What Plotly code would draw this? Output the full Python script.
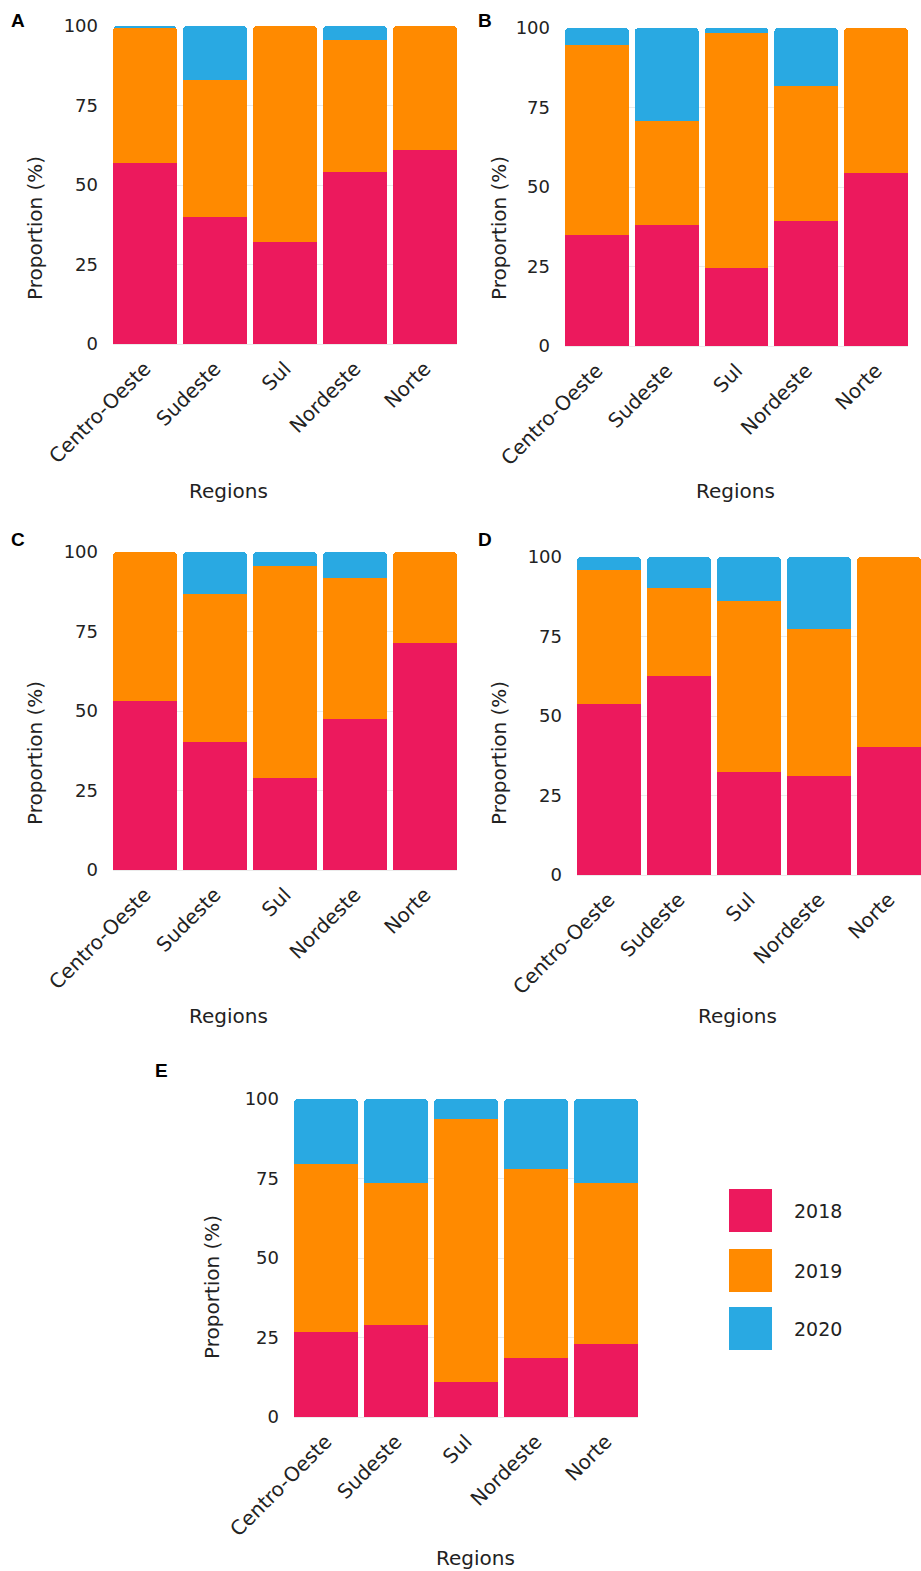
import plotly.graph_objects as go

W, H = 921, 1571

regions = ["Centro-Oeste", "Sudeste", "Sul", "Nordeste", "Norte"]
years = ["2018", "2019", "2020"]

# proportion (%) of each year per region, one set per panel
a_2018 = [57.0, 40.0, 32.0, 54.0, 61.0]
a_2019 = [42.5, 43.0, 68.0, 41.5, 39.0]
a_2020 = [0.5, 17.0, 0.0, 4.5, 0.0]

b_2018 = [35.0, 38.0, 24.5, 39.3, 54.4]
b_2019 = [59.5, 32.6, 73.8, 42.5, 45.6]
b_2020 = [5.5, 29.4, 1.7, 18.2, 0.0]

c_2018 = [53.2, 40.2, 28.9, 47.6, 71.5]
c_2019 = [46.8, 46.5, 66.7, 44.3, 28.5]
c_2020 = [0.0, 13.3, 4.4, 8.1, 0.0]

d_2018 = [53.8, 62.7, 32.5, 31.2, 40.4]
d_2019 = [42.2, 27.6, 53.6, 46.2, 59.6]
d_2020 = [4.0, 9.7, 13.9, 22.6, 0.0]

e_2018 = [26.8, 28.8, 11.0, 18.4, 23.1]
e_2019 = [52.9, 44.8, 82.6, 59.5, 50.5]
e_2020 = [20.3, 26.4, 6.4, 22.1, 26.4]

y_ticks = [0, 25, 50, 75, 100]

colors = {"2018": "#EC195D", "2019": "#FF8A00", "2020": "#29A9E2"}
FONT = "DejaVu Sans"
TXT = "#222222"
GRID = "#EBEBEB"

panels = [
    ("A", [a_2018, a_2019, a_2020], (113, 457, 26, 344)),
    ("B", [b_2018, b_2019, b_2020], (565, 908, 28, 346)),
    ("C", [c_2018, c_2019, c_2020], (113, 457, 552, 870)),
    ("D", [d_2018, d_2019, d_2020], (577, 921, 557, 875)),
    ("E", [e_2018, e_2019, e_2020], (294, 638, 1099, 1417)),
]


def px(x):
    return x / W


def py(y):
    return 1 - y / H


fig = go.Figure()
layout = {}
annotations = []
shapes = []

GAP = 0.086
for i, (letter, series, (x0, x1, y0, y1)) in enumerate(panels):
    n = "" if i == 0 else str(i + 1)
    for year, vals in zip(years, series):
        fig.add_trace(go.Bar(
            x=regions, y=[v if v > 0 else None for v in vals], name=year,
            marker=dict(color=colors[year], line=dict(width=0)),
            xaxis="x" + n, yaxis="y" + n, showlegend=False,
        ))
    layout["xaxis" + n] = dict(
        domain=[px(x0), px(x1)], anchor="y" + n, automargin=False,
        range=[-0.5 + GAP / 2, len(regions) - 0.5 - GAP / 2],
        tickangle=-45, tickfont=dict(family=FONT, size=20, color=TXT),
        showgrid=False, zeroline=False, showline=False, ticks="",
        ticklabelstandoff=8, fixedrange=True,
    )
    layout["yaxis" + n] = dict(
        domain=[py(y1), py(y0)], anchor="x" + n, automargin=False, range=[0, 100],
        tickvals=y_ticks, tickfont=dict(family=FONT, size=18, color=TXT),
        showgrid=True, gridcolor=GRID, gridwidth=1,
        zeroline=True, zerolinecolor=GRID, zerolinewidth=1,
        showline=False, ticks="", ticklabelstandoff=14, fixedrange=True,
    )

# panel letters
letter_pos = {"A": (18, 20), "B": (485, 20), "C": (18, 539), "D": (485, 539), "E": (161, 1070)}
for letter, (lx, ly) in letter_pos.items():
    annotations.append(dict(
        text=letter, x=px(lx), y=py(ly), xref="paper", yref="paper",
        showarrow=False, xanchor="center", yanchor="middle",
        font=dict(family="Liberation Sans", size=19, color="#000000", weight="bold"),
    ))

# axis titles
ytitle_pos = [(35, 228), (499, 228), (35, 753), (499, 753), (212, 1287)]
xtitle_pos = [(228, 491), (735, 491), (228, 1016), (737, 1016), (475, 1558)]
for (tx, ty) in ytitle_pos:
    annotations.append(dict(
        text="Proportion (%)", x=px(tx), y=py(ty), xref="paper", yref="paper",
        showarrow=False, textangle=-90, xanchor="center", yanchor="middle",
        font=dict(family=FONT, size=20, color=TXT),
    ))
for (tx, ty) in xtitle_pos:
    annotations.append(dict(
        text="Regions", x=px(tx), y=py(ty), xref="paper", yref="paper",
        showarrow=False, xanchor="center", yanchor="middle",
        font=dict(family=FONT, size=20, color=TXT),
    ))

# legend keys
key_tops = [1189, 1249, 1307]
for year, top in zip(years, key_tops):
    shapes.append(dict(
        type="rect", xref="paper", yref="paper",
        x0=px(729), x1=px(772), y0=py(top + 43), y1=py(top),
        fillcolor=colors[year], line=dict(width=0),
    ))
    annotations.append(dict(
        text=year, x=px(792), y=py(top + 22), xref="paper", yref="paper",
        showarrow=False, xanchor="left", yanchor="middle",
        font=dict(family=FONT, size=19, color=TXT),
    ))

fig.update_layout(
    template="none",
    width=W, height=H, margin=dict(l=0, r=0, t=0, b=0, autoexpand=False),
    paper_bgcolor="white", plot_bgcolor="white",
    barmode="stack", bargap=GAP, barcornerradius=4,
    showlegend=False, annotations=annotations, shapes=shapes,
    **layout,
)

fig.write_html("out.html")
